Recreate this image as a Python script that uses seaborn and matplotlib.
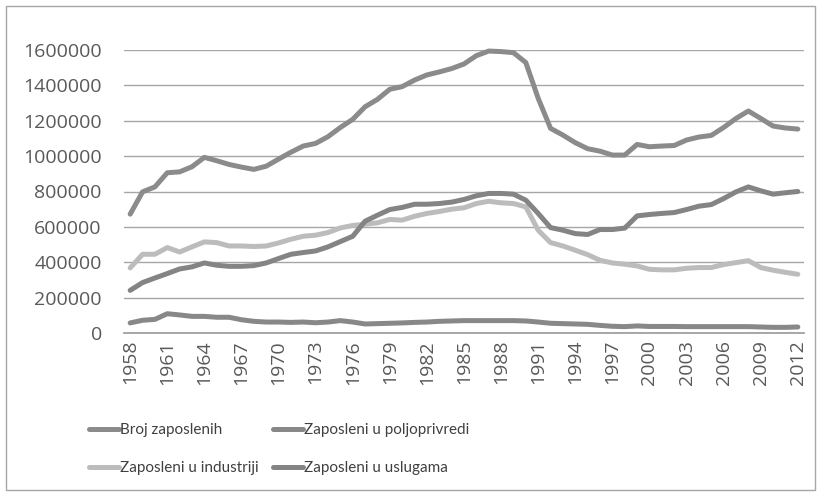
import matplotlib
matplotlib.use("Agg")
import matplotlib.pyplot as plt
import seaborn as sns
import pandas as pd
from matplotlib.patches import Rectangle
from matplotlib.lines import Line2D

years = list(range(1958, 2013))

broj_zaposlenih = [
    672000, 798000, 826000, 906000, 911000, 940000, 993000, 974000, 953000, 938000,
    925000, 943000, 983000, 1022000, 1057000, 1072000, 1110000, 1162000, 1208000, 1279000,
    1321000, 1378000, 1393000, 1430000, 1459000, 1476000, 1495000, 1521000, 1568000, 1594000,
    1591000, 1585000, 1529000, 1327000, 1157000, 1119000, 1076000, 1042000, 1028000, 1006000,
    1006000, 1066000, 1053000, 1057000, 1060000, 1091000, 1108000, 1117000, 1162000, 1213000,
    1255000, 1213000, 1170000, 1159000, 1153000,
]
zaposleni_poljoprivreda = [
    57000, 72000, 77000, 109000, 102000, 94000, 94000, 89000, 89000, 75000,
    66000, 62000, 62000, 60000, 62000, 58000, 62000, 70000, 62000, 51000,
    53000, 55000, 57000, 60000, 62000, 66000, 68000, 70000, 70000, 70000,
    70000, 70000, 68000, 62000, 55000, 53000, 51000, 49000, 43000, 38000,
    36000, 40000, 37000, 37000, 37000, 36000, 36000, 36000, 36000, 36000,
    36000, 34000, 32000, 32000, 34000,
]
zaposleni_industrija = [
    368000, 445000, 445000, 483000, 458000, 487000, 515000, 511000, 492000, 492000,
    489000, 492000, 509000, 530000, 547000, 553000, 568000, 594000, 608000, 615000,
    623000, 642000, 638000, 660000, 676000, 687000, 700000, 708000, 732000, 745000,
    736000, 732000, 713000, 581000, 511000, 492000, 468000, 443000, 411000, 396000,
    389000, 379000, 360000, 357000, 357000, 366000, 370000, 370000, 387000, 398000,
    409000, 370000, 355000, 343000, 332000,
]
zaposleni_usluge = [
    241000, 285000, 311000, 336000, 362000, 374000, 396000, 383000, 377000, 377000,
    381000, 396000, 421000, 445000, 455000, 464000, 487000, 517000, 547000, 632000,
    666000, 698000, 710000, 728000, 728000, 732000, 740000, 755000, 776000, 789000,
    789000, 785000, 751000, 676000, 596000, 581000, 562000, 557000, 585000, 585000,
    593000, 662000, 670000, 676000, 681000, 698000, 717000, 726000, 760000, 798000,
    826000, 804000, 785000, 793000, 800000,
]

series_names = [
    "Broj zaposlenih",
    "Zaposleni u poljoprivredi",
    "Zaposleni u industriji",
    "Zaposleni u uslugama",
]
series_values = [broj_zaposlenih, zaposleni_poljoprivreda, zaposleni_industrija, zaposleni_usluge]
colors = ["#8b8b8b", "#888888", "#bcbcbc", "#848484"]

ytick_values = [0, 200000, 400000, 600000, 800000, 1000000, 1200000, 1400000, 1600000]
xtick_years = years[::3]

rows = []
for name, vals in zip(series_names, series_values):
    for i, (yr, v) in enumerate(zip(years, vals)):
        rows.append({"idx": i, "year": yr, "value": v, "series": name})
df = pd.DataFrame(rows)

sns.set_theme(style="white")
plt.rcParams["font.family"] = ["Open Sans", "DejaVu Sans"]

W, H = 821, 496
fig = plt.figure(figsize=(W / 100, H / 100), dpi=100)
ax = fig.add_axes([124 / W, 1 - 333 / H, (804 - 124) / W, (333 - 50) / H])

sns.lineplot(
    data=df, x="idx", y="value", hue="series", hue_order=series_names,
    palette=dict(zip(series_names, colors)), linewidth=3.6, legend=False, ax=ax,
    sort=False,
)
for ln in ax.lines:
    ln.set_clip_on(False)
    ln.set_solid_joinstyle("round")
    ln.set_solid_capstyle("round")

ax.set_xlim(-0.5, len(years) - 0.5)
ax.set_ylim(0, 1600000)
ax.set_yticks(ytick_values)
ax.set_yticklabels([str(v) for v in ytick_values])
ax.set_xticks([years.index(y) for y in xtick_years])
ax.set_xticklabels([str(y) for y in xtick_years], rotation=90)
ax.set_xlabel("")
ax.set_ylabel("")

ax.grid(axis="y", color="#a6a6a6", linewidth=1.0)
ax.grid(axis="x", visible=False)
ax.set_axisbelow(True)
for s in ["top", "right", "left"]:
    ax.spines[s].set_visible(False)
ax.spines["bottom"].set_color("#9a9a9a")
ax.spines["bottom"].set_linewidth(1.2)

ax.tick_params(axis="y", length=0, pad=16, labelsize=14, labelcolor="#595959")
ax.tick_params(axis="x", length=0, pad=5, labelsize=14, labelcolor="#595959")

handles = [Line2D([0], [0], color=c, lw=3.6, solid_capstyle="round") for c in colors]
order = [0, 2, 1, 3]
leg = fig.legend(
    [handles[i] for i in order], [series_names[i] for i in order],
    ncol=2, loc="upper left", bbox_to_anchor=(89 / W, 1 - 423 / H),
    frameon=False, borderpad=0, borderaxespad=0, handlelength=1.96,
    handletextpad=0.05, columnspacing=0.95, labelspacing=1.6,
    prop={"family": ["Lato", "DejaVu Sans"], "size": 11},
)
for t in leg.get_texts():
    t.set_color("#404040")

fig.patches.append(Rectangle((6 / W, 6 / H), 809 / W, 484 / H, transform=fig.transFigure,
                             fill=False, edgecolor="#a6a6a6", linewidth=1.0))

fig.savefig("out.png", dpi=100)
